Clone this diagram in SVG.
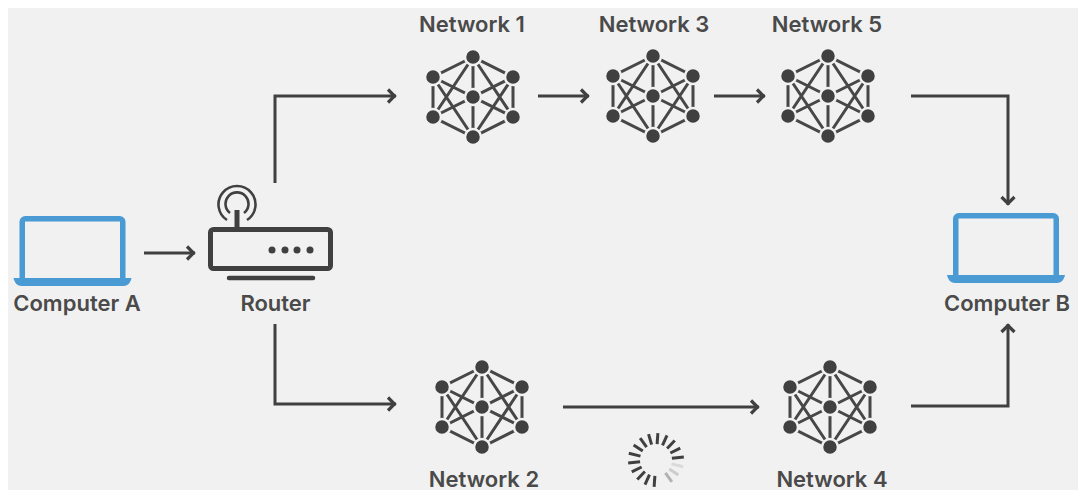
<svg xmlns="http://www.w3.org/2000/svg" width="1078" height="495" viewBox="0 0 1078 495">
<style>
.lbl{font-family:Inter,Roboto,"Liberation Sans",sans-serif;font-weight:600;font-size:22px;fill:#4a4a4a;text-anchor:middle}
.conn{fill:none;stroke:#404040;stroke-width:3}
.lap{fill:none;stroke:#4a9ad4;stroke-width:5.5;stroke-linejoin:round}
.base{fill:#4a9ad4}
.rt{fill:none;stroke:#404040}
.edge{stroke:#474747;stroke-width:3}
.dot{fill:#404040;stroke:#f1f1f1;stroke-width:2.5}
.tick{stroke:#404040;stroke-width:3;stroke-linecap:butt}
</style>
<defs>
<marker id="arrow" markerUnits="userSpaceOnUse" markerWidth="16" markerHeight="18" refX="14" refY="9" orient="auto">
<path d="M6 2.500 L12.500 9 L6 15.500" fill="none" stroke="#404040" stroke-width="3.2"/>
</marker>
<g id="mesh">
<path class="edge" d="M0-40L-40-20L-40 20L0 40L40 20L40-20Z" fill="none"/>
<path class="edge" d="M0-40V40M-40-20L40 20M40-20L-40 20M0-40L-40 20M0-40L40 20M0 40L-40-20M0 40L40-20"/>
<circle class="dot" cx="0" cy="-40" r="8"/>
<circle class="dot" cx="-40" cy="-20" r="8"/>
<circle class="dot" cx="40" cy="-20" r="8"/>
<circle class="dot" cx="-40" cy="20" r="8"/>
<circle class="dot" cx="40" cy="20" r="8"/>
<circle class="dot" cx="0" cy="40" r="8"/>
<circle class="dot" cx="0" cy="0" r="8"/>
</g>
<g id="laptop">
<rect class="lap" x="2.75" y="2.75" width="100.5" height="62" rx="3"/>
<path class="base" d="M-6 62H112C111 67 108 70 104 70H2C-2 70-5 67-6 62Z"/>
</g>
</defs>
<rect x="8" y="8" width="1070" height="482" fill="#f1f1f1"/>
<g id="connectors">
<path class="conn" marker-end="url(#arrow)" d="M144 253H195"/>
<path class="conn" marker-end="url(#arrow)" d="M275 183V96H396"/>
<path class="conn" marker-end="url(#arrow)" d="M275 324V404H396"/>
<path class="conn" marker-end="url(#arrow)" d="M538 96H589"/>
<path class="conn" marker-end="url(#arrow)" d="M714 96H765"/>
<path class="conn" marker-end="url(#arrow)" d="M911 96H1008V205"/>
<path class="conn" marker-end="url(#arrow)" d="M563 407H759"/>
<path class="conn" marker-end="url(#arrow)" d="M911 406H1008V324"/>
</g>
<g id="computer-a"><use href="#laptop" x="19.5" y="216"/><text class="lbl" x="77" y="311">Computer A</text></g>
<g id="router">
<rect class="rt" x="210.5" y="229.5" width="120" height="39" rx="3" stroke-width="5"/>
<path class="rt" stroke-width="5" d="M237 210V229"/>
<path class="rt" stroke-width="2.6" d="M227 220A18.5 18.5 0 1 1 247 220M230 213A11.5 11.5 0 1 1 244 213"/>
<circle cx="272" cy="250" r="3.5" fill="#404040"/><circle cx="285" cy="250" r="3.5" fill="#404040"/><circle cx="297" cy="250" r="3.5" fill="#404040"/><circle cx="310" cy="250" r="3.5" fill="#404040"/>
<path class="rt" stroke-width="4.5" stroke-linecap="round" d="M229 278H313"/>
<text class="lbl" x="275.500" y="311">Router</text>
</g>
<g id="network-1"><use href="#mesh" x="473" y="97"/><text class="lbl" x="472" y="32">Network 1</text></g>
<g id="network-3"><use href="#mesh" x="653" y="96"/><text class="lbl" x="654" y="32">Network 3</text></g>
<g id="network-5"><use href="#mesh" x="828" y="96"/><text class="lbl" x="827" y="32">Network 5</text></g>
<g id="network-2"><use href="#mesh" x="482" y="407"/><text class="lbl" x="484" y="487">Network 2</text></g>
<g id="network-4"><use href="#mesh" x="830" y="407"/><text class="lbl" x="832" y="487">Network 4</text></g>
<g id="computer-b"><use href="#laptop" x="953" y="213"/><text class="lbl" x="1007" y="311">Computer B</text></g>
<g id="spinner">
<path class="tick" transform="translate(656 460) rotate(4)" d="M0-16V-27"/>
<path class="tick" transform="translate(656 460) rotate(24)" d="M0-16V-27"/>
<path class="tick" transform="translate(656 460) rotate(44)" d="M0-16V-27"/>
<path class="tick" transform="translate(656 460) rotate(64)" d="M0-16V-27"/>
<path class="tick" transform="translate(656 460) rotate(84)" d="M0-16V-28"/>
<path class="tick" opacity=".12" transform="translate(656 460) rotate(104)" d="M0-16V-28"/>
<path class="tick" opacity=".2" transform="translate(656 460) rotate(124)" d="M0-16V-27"/>
<path class="tick" opacity=".35" transform="translate(656 460) rotate(144)" d="M0-16V-27"/>
<path class="tick" transform="translate(656 460) rotate(184)" d="M0-16V-27"/>
<path class="tick" transform="translate(656 460) rotate(204)" d="M0-16V-27"/>
<path class="tick" transform="translate(656 460) rotate(224)" d="M0-16V-27"/>
<path class="tick" transform="translate(656 460) rotate(244)" d="M0-16V-27"/>
<path class="tick" transform="translate(656 460) rotate(264)" d="M0-16V-28"/>
<path class="tick" transform="translate(656 460) rotate(284)" d="M0-16V-28"/>
<path class="tick" transform="translate(656 460) rotate(304)" d="M0-16V-27"/>
<path class="tick" transform="translate(656 460) rotate(324)" d="M0-16V-27"/>
<path class="tick" transform="translate(656 460) rotate(344)" d="M0-16V-27"/>
</g>
</svg>
